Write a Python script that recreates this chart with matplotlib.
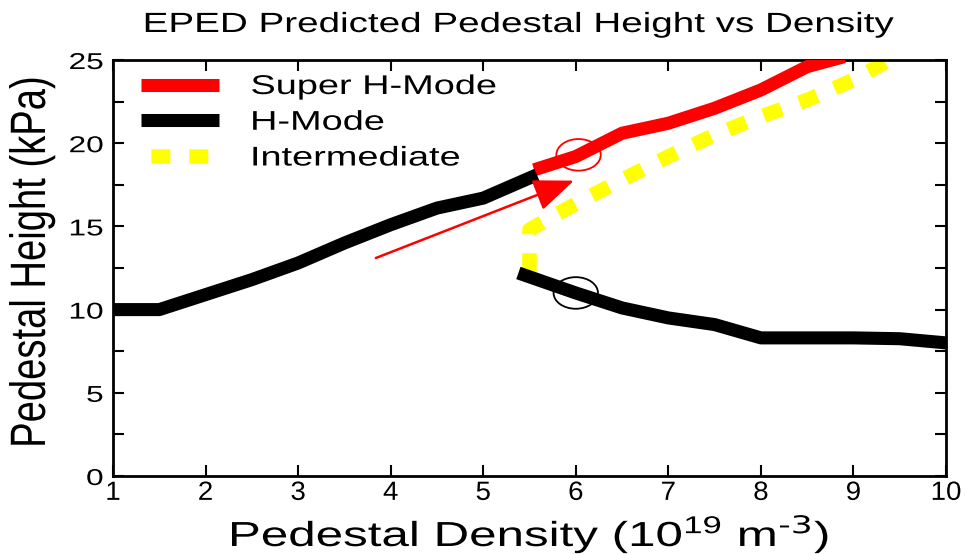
import matplotlib
matplotlib.use("Agg")
import matplotlib.pyplot as plt
from matplotlib.patches import Ellipse
from matplotlib.patheffects import AbstractPathEffect
from matplotlib.transforms import Affine2D
from matplotlib.legend_handler import HandlerLine2D
import numpy as np

plt.rcParams['font.family'] = ['Liberation Sans', 'DejaVu Sans']
plt.rcParams['mathtext.default'] = 'regular'

# H-Mode lower-density branch (rising)
hmode_low_x = [1.0, 1.5, 2.0, 2.5, 3.0, 3.5, 4.0, 4.5, 5.0, 5.58]
hmode_low_y = [10.0, 10.0, 10.9, 11.8, 12.8, 14.0, 15.1, 16.1, 16.7, 18.1]

# H-Mode higher-density branch (falling)
hmode_high_x = [5.38, 6.0, 6.5, 7.0, 7.5, 8.0, 8.5, 9.0, 9.5, 10.0]
hmode_high_y = [12.2, 11.0, 10.1, 9.5, 9.1, 8.3, 8.3, 8.3, 8.25, 8.0]

# Super H-Mode
super_x = [5.55, 6.0, 6.5, 7.0, 7.5, 8.0, 8.5, 8.9]
super_y = [18.4, 19.2, 20.6, 21.2, 22.1, 23.2, 24.6, 25.2]

# Intermediate
inter_x = [5.5, 5.5, 5.75, 6.15, 6.5, 7.0, 7.5, 8.0, 8.5, 9.0, 9.45]
inter_y = [12.25, 14.8, 15.6, 16.8, 17.8, 19.2, 20.5, 21.6, 22.6, 23.8, 25.2]

series_labels = ["Super H-Mode", "H-Mode", "Intermediate"]

x_ticks = [1, 2, 3, 4, 5, 6, 7, 8, 9, 10]
y_ticks = [0, 5, 10, 15, 20, 25]

arrow_start = (3.84, 13.1)
arrow_end = (5.98, 17.75)
circle_red = (6.03, 19.3)
circle_black = (6.0, 11.0)


class Stretch(AbstractPathEffect):
    """Stretch rendered glyphs horizontally (the reference figure is widened)."""
    def __init__(self, sx=1.4, sy=1.0, anchor='center'):
        super().__init__()
        self.sx, self.sy, self.anchor = sx, sy, anchor

    def draw_path(self, renderer, gc, tpath, affine, rgbFace=None):
        ext = tpath.get_extents(affine)
        if self.anchor == 'left':
            cx = ext.x0
        elif self.anchor == 'right':
            cx = ext.x1
        else:
            cx = 0.5 * (ext.x0 + ext.x1)
        cy = 0.5 * (ext.y0 + ext.y1)
        new = affine + Affine2D().translate(-cx, -cy).scale(self.sx, self.sy).translate(cx, cy)
        renderer.draw_path(gc, tpath, new, rgbFace)


fig = plt.figure(figsize=(9.65, 5.54), dpi=100)
ax = fig.add_axes([113 / 965, 78 / 554, 833 / 965, 416 / 554])

lw = 9.4
ax.plot(super_x, super_y, color='red', lw=lw, solid_capstyle='butt',
        solid_joinstyle='round', label=series_labels[0], zorder=3)
ax.plot(hmode_low_x, hmode_low_y, color='black', lw=lw, solid_capstyle='butt',
        solid_joinstyle='round', label=series_labels[1], zorder=4)
ax.plot(hmode_high_x, hmode_high_y, color='black', lw=lw, solid_capstyle='butt',
        solid_joinstyle='round', zorder=4)
inter_line, = ax.plot(inter_x, inter_y, color='#ffff00', lw=10.5, linestyle=(0, (1.3, 1.3)),
                      dash_capstyle='butt', label=series_labels[2], zorder=2)

ax.annotate('', xy=arrow_end, xytext=arrow_start,
            arrowprops=dict(arrowstyle='-|>,head_length=2.5,head_width=1.0',
                            color='red', lw=1.8, shrinkA=0, shrinkB=0,
                            mutation_scale=10),
            zorder=5)

ax.add_patch(Ellipse(circle_red, 0.48, 1.9, fill=False, edgecolor='red', lw=1.3, zorder=6))
ax.add_patch(Ellipse(circle_black, 0.48, 1.9, fill=False, edgecolor='black', lw=1.3, zorder=6))

ax.set_xlim(1, 10)
ax.set_ylim(0, 25)
ax.set_xticks(x_ticks)
ax.set_xticklabels([str(v) for v in x_ticks])
ax.set_yticks(y_ticks)
ax.set_yticklabels([str(v) for v in y_ticks])
ax.set_yticks(np.arange(2.5, 25, 5), minor=True)

ax.tick_params(axis='both', which='both', direction='in', top=True, right=True,
               length=8, width=1.5)
ax.tick_params(axis='x', labelsize=19, pad=3.5)
ax.tick_params(axis='y', labelsize=16.5, pad=7)
for s in ax.spines.values():
    s.set_linewidth(2)

for t in ax.get_xticklabels():
    t.set_path_effects([Stretch(1.05, 1.0, 'center')])
for t in ax.get_yticklabels():
    t.set_path_effects([Stretch(1.38, 1.0, 'right')])

xl = ax.set_xlabel(r'Pedestal Density (10$^{19}$ m$^{\text{-3}}$)', fontsize=25, va='baseline')
ax.xaxis.set_label_coords(0.5, (476 - 546) / 416)
xl.set_path_effects([Stretch(1.42, 1.0, 'center')])

yl = ax.set_ylabel('Pedestal Height (kPa)', fontsize=27.5, va='center')
ax.yaxis.set_label_coords((32 - 113) / 833, 0.515)
yl.set_path_effects([Stretch(1.3, 1.0, 'center')])

tt = ax.set_title('EPED Predicted Pedestal Height vs Density', fontsize=20,
                  x=(518 - 113) / 833, y=(476 - 32) / 416, va='baseline', pad=0)
tt.set_path_effects([Stretch(1.39, 1.0, 'center')])


def _legend_dash(legend_handle, orig_handle):
    legend_handle.update_from(orig_handle)
    legend_handle.set_linestyle((1.92, (1.3, 1.3)))


leg = ax.legend(loc='upper left', bbox_to_anchor=(28 / 833, 1 - 14 / 416), frameon=False,
                fontsize=19.5, handlelength=78 / 27.1, handletextpad=32 / 27.1,
                labelspacing=0.36, borderaxespad=0, borderpad=0,
                handler_map={inter_line: HandlerLine2D(update_func=_legend_dash)})
for t in leg.get_texts():
    t.set_path_effects([Stretch(1.4, 1.0, 'left')])

fig.savefig('out.png', dpi=100)
